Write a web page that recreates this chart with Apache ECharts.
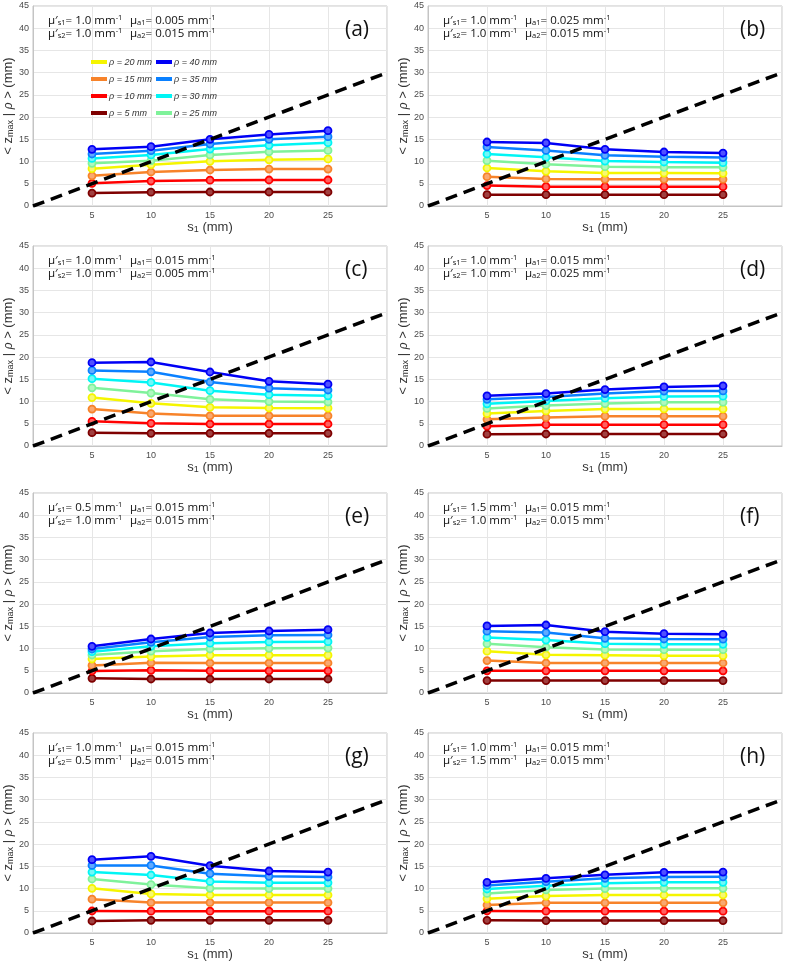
<!DOCTYPE html>
<html>
<head>
<meta charset="utf-8">
<script src="https://cdn.jsdelivr.net/npm/echarts@6/dist/echarts.min.js"></script>
<style>html,body{margin:0;padding:0;background:#fff}#c{width:789px;height:971px}</style>
</head>
<body>
<div id="c"></div>
<script>
// ---- data ----
const xValues = [5, 10, 15, 20, 25];
const rhoNames = ['ρ = 5 mm','ρ = 10 mm','ρ = 15 mm','ρ = 20 mm','ρ = 25 mm','ρ = 30 mm','ρ = 35 mm','ρ = 40 mm'];
const identityLine = [0, 30];
const panelLetters = ['(a)','(b)','(c)','(d)','(e)','(f)','(g)','(h)'];
const musp1 = ['1.0','1.0','1.0','1.0','0.5','1.5','1.0','1.0'];
const mua1  = ['0.005','0.025','0.015','0.015','0.015','0.015','0.015','0.015'];
const musp2 = ['1.0','1.0','1.0','1.0','1.0','1.0','0.5','1.5'];
const mua2  = ['0.015','0.015','0.005','0.025','0.015','0.015','0.015','0.015'];
const xTickLabels = [5, 10, 15, 20, 25];

// rows: rho = 5,10,15,20,25,30,35,40 ; columns: s1 = 5..25
const panelA = [
  [2.9, 3.1, 3.15, 3.15, 3.15],
  [5.1, 5.6, 5.8, 5.85, 5.85],
  [6.8, 7.65, 8.1, 8.3, 8.3],
  [8.4, 9.3, 10.05, 10.4, 10.6],
  [9.6, 10.2, 11.5, 12.2, 12.5],
  [10.7, 11.5, 12.8, 13.65, 14.25],
  [11.7, 12.45, 13.95, 15.0, 15.6],
  [12.75, 13.35, 15.0, 16.1, 16.95]
];
const panelB = [
  [2.55, 2.55, 2.55, 2.55, 2.55],
  [4.6, 4.35, 4.35, 4.35, 4.35],
  [6.6, 6.1, 6.0, 6.0, 6.0],
  [8.55, 7.8, 7.4, 7.4, 7.35],
  [10.2, 9.4, 8.85, 8.7, 8.7],
  [11.7, 10.95, 10.1, 9.9, 9.75],
  [13.3, 12.5, 11.4, 11.1, 10.9],
  [14.4, 14.2, 12.75, 12.15, 11.9]
];
const panelC = [
  [3.0, 2.85, 2.85, 2.85, 2.85],
  [5.55, 5.1, 4.95, 4.95, 4.95],
  [8.3, 7.3, 6.8, 6.8, 6.8],
  [10.9, 9.6, 8.7, 8.55, 8.5],
  [13.1, 11.9, 10.5, 10.0, 9.9],
  [15.15, 14.3, 12.45, 11.55, 11.3],
  [17.0, 16.7, 14.4, 13.0, 12.6],
  [18.75, 18.9, 16.65, 14.55, 13.9]
];
const panelD = [
  [2.65, 2.7, 2.7, 2.7, 2.7],
  [4.45, 4.8, 4.8, 4.8, 4.8],
  [6.0, 6.4, 6.7, 6.7, 6.7],
  [7.3, 7.9, 8.3, 8.35, 8.35],
  [8.45, 9.1, 9.55, 9.85, 9.85],
  [9.5, 10.15, 10.75, 11.15, 11.2],
  [10.5, 11.05, 11.8, 12.35, 12.4],
  [11.3, 11.8, 12.7, 13.3, 13.55]
];
const panelE = [
  [3.3, 3.15, 3.15, 3.15, 3.15],
  [4.95, 5.1, 5.0, 5.0, 5.0],
  [6.2, 6.8, 6.75, 6.75, 6.75],
  [7.65, 8.2, 8.5, 8.5, 8.5],
  [8.55, 9.4, 9.9, 10.05, 10.1],
  [9.3, 10.5, 11.2, 11.5, 11.55],
  [9.9, 11.4, 12.6, 13.0, 13.05],
  [10.5, 12.15, 13.5, 13.95, 14.25]
];
const panelF = [
  [2.8, 2.8, 2.8, 2.8, 2.8],
  [5.0, 5.0, 5.0, 5.0, 5.0],
  [7.3, 6.75, 6.75, 6.75, 6.75],
  [9.4, 8.6, 8.5, 8.4, 8.4],
  [11.1, 10.3, 9.8, 9.75, 9.75],
  [12.5, 11.9, 11.1, 10.95, 10.95],
  [13.9, 13.6, 12.3, 12.15, 12.1],
  [15.1, 15.3, 13.8, 13.35, 13.2]
];
const panelG = [
  [2.7, 2.85, 2.85, 2.85, 2.85],
  [4.95, 4.9, 4.9, 4.9, 4.9],
  [7.6, 6.85, 6.85, 6.85, 6.85],
  [10.05, 8.8, 8.55, 8.55, 8.55],
  [12.15, 10.9, 10.05, 10.0, 10.0],
  [13.7, 13.05, 11.6, 11.3, 11.3],
  [15.2, 15.2, 13.35, 12.75, 12.6],
  [16.5, 17.25, 15.15, 13.95, 13.7]
];
const panelH = [
  [2.85, 2.8, 2.8, 2.8, 2.8],
  [4.95, 4.9, 4.9, 4.9, 4.9],
  [6.3, 6.8, 6.8, 6.8, 6.8],
  [7.7, 8.3, 8.55, 8.55, 8.55],
  [8.9, 9.7, 10.0, 10.05, 10.05],
  [9.9, 10.65, 11.2, 11.4, 11.4],
  [10.7, 11.55, 12.3, 12.6, 12.65],
  [11.4, 12.3, 13.1, 13.65, 13.7]
];
const allPanels = [panelA, panelB, panelC, panelD, panelE, panelF, panelG, panelH];

// ---- styles ----
const rhoColors = ['#7f0000','#ff0000','#f7832a','#f5f500','#7ff29a','#00f5f5','#0a80ff','#0000f5'];
const rhoFill   = ['#a04040','#ff6060','#f9a870','#f8f870','#b0f8c0','#70f8f8','#60aaff','#5050ff'];
const gridLefts = [33, 428];
const gridTops = [6, 246, 493, 733];
const gridW = 354, gridH = 200;
const tickFont = 'Liberation Sans, Arial, sans-serif';
const noteFont = 'Open Sans, DejaVu Sans, sans-serif';

const grids = [], xAxes = [], yAxes = [], series = [], titles = [];
allPanels.forEach((pd, i) => {
  const gl = gridLefts[i % 2], gt = gridTops[Math.floor(i / 2)];
  grids.push({left: gl, top: gt, width: gridW, height: gridH, containLabel: false, outerBoundsMode: 'none',
    show: true, borderColor: '#c4c4c4', borderWidth: 1, backgroundColor: '#fff'});
  xAxes.push({gridIndex: i, type: 'value', min: 0, max: 30, interval: 5,
    axisLine: {show: true, lineStyle: {color: '#c4c4c4'}},
    axisTick: {show: false},
    axisLabel: {fontSize: 9, color: '#4a4a4a', fontFamily: tickFont, margin: 5,
      formatter: v => xTickLabels.indexOf(v) >= 0 ? String(v) : ''},
    splitLine: {show: true, lineStyle: {color: '#e6e6e6', width: 1}},
    name: 's{sub|1} (mm)', nameLocation: 'middle', nameGap: 15,
    nameTextStyle: {fontSize: 13, color: '#333', fontFamily: tickFont,
      rich: {sub: {fontSize: 9, verticalAlign: 'bottom', fontFamily: tickFont, color: '#333'}}}
  });
  yAxes.push({gridIndex: i, type: 'value', min: 0, max: 45, interval: 5,
    axisLine: {show: true, lineStyle: {color: '#c4c4c4'}},
    axisTick: {show: false},
    axisLabel: {fontSize: 9, color: '#4a4a4a', fontFamily: tickFont, margin: 4},
    splitLine: {show: true, lineStyle: {color: '#e6e6e6', width: 1}},
    name: '< z{sub|max} | {it|ρ} > (mm)', nameLocation: 'middle', nameGap: 10,
    nameTextStyle: {fontSize: 13, color: '#333', fontFamily: tickFont,
      rich: {sub: {fontSize: 9, verticalAlign: 'bottom', fontFamily: tickFont, color: '#333'},
             it: {fontSize: 12, fontStyle: 'italic', fontFamily: tickFont, color: '#333'}}}
  });
  pd.forEach((vals, r) => {
    series.push({type: 'line', name: rhoNames[r], xAxisIndex: i, yAxisIndex: i,
      data: xValues.map((x, k) => [x, vals[k]]),
      symbol: 'circle', symbolSize: 7, z: 2,
      lineStyle: {width: 2.5, color: rhoColors[r]},
      itemStyle: {color: rhoFill[r], borderColor: rhoColors[r], borderWidth: 1.8},
      emphasis: {disabled: true}, animation: false});
  });
  series.push({type: 'line', xAxisIndex: i, yAxisIndex: i,
    data: identityLine.map(v => [v, v]), symbol: 'none', z: 5,
    lineStyle: {color: '#000', width: 3.5, type: [12, 7]},
    emphasis: {disabled: true}, animation: false});
  const rich = {
    s: {fontSize: 7.5, verticalAlign: 'bottom', fontFamily: noteFont, color: '#111'},
    p: {fontSize: 7.5, verticalAlign: 'top', fontFamily: noteFont, color: '#111'}
  };
  titles.push({left: gl + 15, top: gt + 8, padding: 0,
    text: 'μ′{s|s1}= ' + musp1[i] + ' mm{p|-1}\nμ′{s|s2}= ' + musp2[i] + ' mm{p|-1}',
    textStyle: {fontSize: 11.5, fontWeight: 'normal', color: '#111', fontFamily: noteFont, lineHeight: 13, rich: rich}});
  titles.push({left: gl + 97, top: gt + 8, padding: 0,
    text: 'μ{s|a1}= ' + mua1[i] + ' mm{p|-1}\nμ{s|a2}= ' + mua2[i] + ' mm{p|-1}',
    textStyle: {fontSize: 11.5, fontWeight: 'normal', color: '#111', fontFamily: noteFont, lineHeight: 13, rich: rich}});
  titles.push({left: gl + 312, top: gt + 14, padding: 0, text: panelLetters[i],
    textStyle: {fontSize: 21, fontWeight: 'normal', color: '#111', fontFamily: noteFont}});
});

const legendCol1 = [3, 2, 1, 0], legendCol2 = [7, 6, 5, 4];
const legendBase = {orient: 'vertical', icon: 'rect', itemWidth: 16, itemHeight: 4, itemGap: 5,
  padding: 0, selectedMode: false,
  textStyle: {fontSize: 9, fontStyle: 'italic', color: '#333', fontFamily: tickFont, lineHeight: 12, padding: [0, 0, 0, -3]}};

const chart = echarts.init(document.getElementById('c'), null, {renderer: 'canvas'});
chart.setOption({
  animation: false,
  backgroundColor: '#fff',
  title: titles,
  legend: [
    Object.assign({}, legendBase, {left: 91, top: 56, data: legendCol1.map(r => ({name: rhoNames[r], itemStyle: {color: rhoColors[r], borderWidth: 0}}))}),
    Object.assign({}, legendBase, {left: 156, top: 56, data: legendCol2.map(r => ({name: rhoNames[r], itemStyle: {color: rhoColors[r], borderWidth: 0}}))})
  ],
  grid: grids,
  xAxis: xAxes,
  yAxis: yAxes,
  series: series
});
</script>
</body>
</html>
